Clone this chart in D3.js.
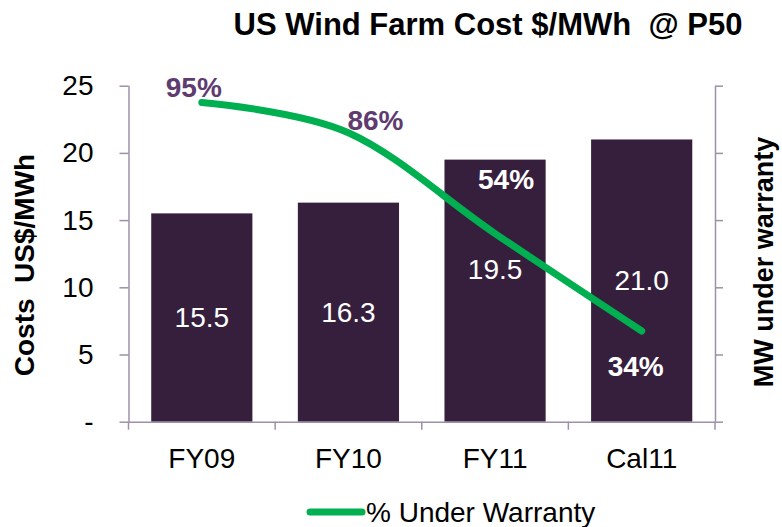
<!DOCTYPE html>
<html>
<head>
<meta charset="utf-8">
<script src="https://cdn.jsdelivr.net/npm/d3@7"></script>
<style>
  body { margin: 0; background: #fff; }
  svg { font-family: Arial, "Liberation Sans", sans-serif; }
</style>
</head>
<body>
<svg width="782" height="527"></svg>
<script>
/*** Data ***/
const categories   = ["FY09", "FY10", "FY11", "Cal11"]
const costs        = [15.5, 16.3, 19.5, 21.0]
const costLabels   = ["15.5", "16.3", "19.5", "21.0"]
const warranty     = [95, 86, 56, 27]          // as plotted on right axis (0-100)
const warrantyText = ["95%", "86%", "54%", "34%"]
const costTicks    = [0, 5, 10, 15, 20, 25]
const pctTicks     = [0, 20, 40, 60, 80, 100]

/*** Setup ***/
const BAR = "#361f3d"
const GREEN = "#00b050"
const AXIS = "#9d90a7"
const PURPLE = "#5e3c6f"

var svg = d3.select("svg")
var m = {left: 128.5, right: 715, top: 85.7, bottom: 421.7}

var x = d3.scaleBand().domain(categories).range([m.left, m.right]).paddingInner(0.31).paddingOuter(0.155)
var y = d3.scaleLinear().domain([0, 25]).range([m.bottom, m.top])
var y2 = d3.scaleLinear().domain([0, 100]).range([m.bottom, m.top])
var xc = (d) => x(d) + x.bandwidth() / 2

// bars
svg.append("g")
   .selectAll("rect")
   .data(costs)
   .enter()
   .append("rect")
   .attr("x", (d, i) => x(categories[i]))
   .attr("y", (d) => y(d))
   .attr("width", x.bandwidth())
   .attr("height", (d) => y(0) - y(d))
   .attr("fill", BAR)

// axes
var yAxis = svg.append("g")
   .attr("transform", "translate(" + m.left + ",0)")
   .call(d3.axisLeft(y).tickValues(costTicks).tickSize(9).tickPadding(26)
           .tickFormat((d) => d == 0 ? "-" : d))
var y2Axis = svg.append("g")
   .attr("transform", "translate(" + m.right + ",0)")
   .call(d3.axisRight(y2).tickValues(pctTicks).tickSize(8).tickFormat(""))
var xAxis = svg.append("g")
   .attr("transform", "translate(0," + m.bottom + ")")
   .call(d3.axisBottom(x).tickSize(0).tickPadding(26))

// category boundary ticks
var bounds = categories.map((c) => x(c) - x.step() * x.paddingInner() / 2)
bounds.push(m.right)
bounds[0] = m.left
svg.append("g")
   .selectAll("line")
   .data(bounds)
   .enter()
   .append("line")
   .attr("x1", (d) => d).attr("x2", (d) => d)
   .attr("y1", m.bottom).attr("y2", m.bottom + 8)
   .attr("stroke", AXIS).attr("stroke-width", 1.5)

;[yAxis, y2Axis, xAxis].forEach((a) => {
	a.select(".domain").attr("stroke", AXIS).attr("stroke-width", 1.5)
	a.selectAll(".tick line").attr("stroke", AXIS).attr("stroke-width", 1.5)
	a.selectAll("text").attr("font-size", 28).attr("fill", "#000").attr("font-family", "Arial, 'Liberation Sans', sans-serif")
})
xAxis.select(".domain").attr("d", "M" + m.left + ",0.5H" + m.right)
yAxis.select(".domain").attr("d", "M0.5," + m.top + "V" + m.bottom)
y2Axis.select(".domain").attr("d", "M0.5," + m.top + "V" + m.bottom)

// bar value labels (FY11 sits a bit higher to clear the line)
svg.append("g")
   .selectAll("text")
   .data(costs)
   .enter()
   .append("text")
   .attr("x", (d, i) => xc(categories[i]))
   .attr("y", (d, i) => (y(d) + y(0)) / 2 - (i == 2 ? 21 : 0))
   .attr("dy", "0.35em")
   .attr("text-anchor", "middle")
   .attr("font-size", 28)
   .attr("fill", "#fff")
   .text((d, i) => costLabels[i])

// warranty line
var line = d3.line()
   .x((d, i) => xc(categories[i]))
   .y((d) => y2(d))
   .curve(d3.curveCardinal)
svg.append("path")
   .datum(warranty)
   .attr("d", line)
   .attr("fill", "none")
   .attr("stroke", GREEN)
   .attr("stroke-width", 7)
   .attr("stroke-linecap", "round")

// warranty labels
var nudge = [[-8, -15], [27, -13], [11, -54], [-6, 35]]
svg.append("g")
   .selectAll("text")
   .data(warranty)
   .enter()
   .append("text")
   .attr("x", (d, i) => xc(categories[i]) + nudge[i][0])
   .attr("y", (d, i) => y2(d) + nudge[i][1])
   .attr("dy", "0.35em")
   .attr("text-anchor", "middle")
   .attr("font-size", 28)
   .attr("font-weight", "bold")
   .attr("fill", (d, i) => i < 2 ? PURPLE : "#fff")
   .text((d, i) => warrantyText[i])

// titles
svg.append("text")
   .attr("x", 488).attr("y", 24).attr("dy", "0.35em")
   .attr("text-anchor", "middle")
   .attr("font-size", 31).attr("font-weight", "bold")
   .text("US Wind Farm Cost $/MWh  @ P50")
   .style("white-space", "pre")

svg.append("text")
   .attr("transform", "translate(24,265) rotate(-90)")
   .attr("dy", "0.35em")
   .attr("text-anchor", "middle")
   .attr("font-size", 28).attr("font-weight", "bold")
   .style("white-space", "pre")
   .text("Costs  US$/MWh")

svg.append("text")
   .attr("transform", "translate(764,262) rotate(-90)")
   .attr("dy", "0.35em")
   .attr("text-anchor", "middle")
   .attr("font-size", 27).attr("font-weight", "bold")
   .text("MW under warranty")

// legend
var lg = svg.append("g")
lg.append("line")
  .attr("x1", 310).attr("x2", 362).attr("y1", 512).attr("y2", 512)
  .attr("stroke", GREEN).attr("stroke-width", 7).attr("stroke-linecap", "round")
lg.append("text")
  .attr("x", 366).attr("y", 512).attr("dy", "0.35em")
  .attr("font-size", 28)
  .text("% Under Warranty")
</script>
</body>
</html>
